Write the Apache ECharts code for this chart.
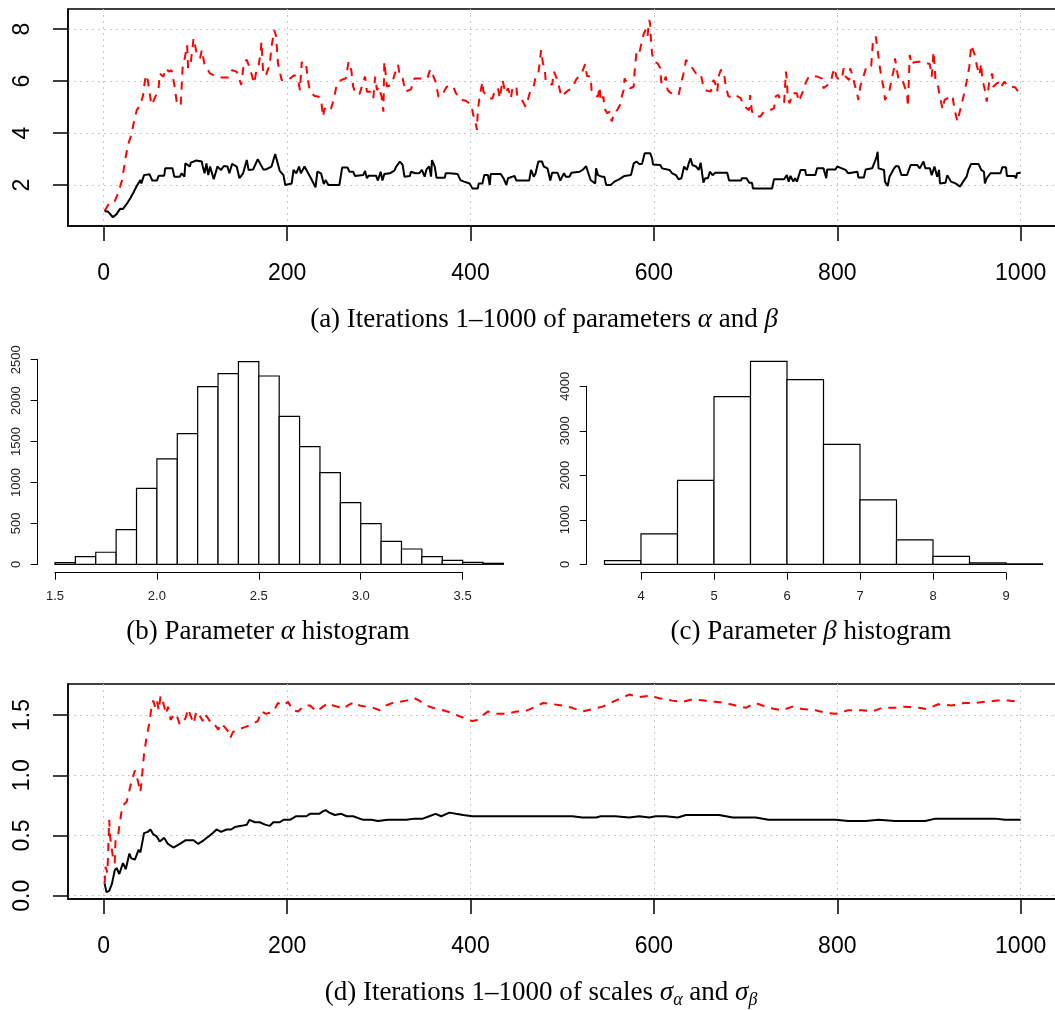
<!DOCTYPE html>
<html><head><meta charset="utf-8">
<script src="https://cdn.jsdelivr.net/npm/echarts@6/dist/echarts.min.js"></script>
<style>html,body{margin:0;padding:0;background:#fff}#c{width:1055px;height:1010px}</style>
</head><body><div id="c"></div>
<script>
// ---------- DATA ----------
const alphaTrace = [[1,1.0],[5,0.97],[10,0.76],[14,0.88],[18,1.09],[21,1.08],[25,1.27],[29,1.49],[32,1.68],[36,1.96],[40,2.19],[41,2.06],[44,2.38],[50,2.41],[53,2.17],[58,2.17],[60,2.36],[66,2.36],[67,2.64],[75,2.64],[77,2.32],[83,2.32],[85,2.45],[88,2.32],[89,2.83],[94,2.71],[95,2.86],[101,2.94],[107,2.90],[108,2.71],[110,2.45],[112,2.83],[114,2.38],[116,2.71],[118,2.77],[120,2.22],[124,2.71],[128,2.58],[131,2.73],[135,2.71],[137,2.45],[140,2.81],[145,2.71],[148,2.26],[152,2.45],[156,2.96],[158,2.58],[163,2.60],[168,2.99],[174,2.60],[177,2.60],[183,2.71],[187,3.19],[189,3.19],[192,2.54],[196,2.38],[198,2.0],[200,2.04],[205,2.06],[207,2.58],[210,2.45],[213,2.71],[215,2.45],[219,2.71],[223,2.45],[226,2.26],[231,1.91],[233,2.51],[237,2.45],[240,2.04],[242,2.19],[245,2.0],[257,2.0],[260,2.67],[266,2.67],[268,2.51],[272,2.51],[274,2.35],[283,2.38],[285,2.54],[287,2.26],[289,2.36],[297,2.36],[299,2.17],[302,2.51],[304,2.17],[306,2.42],[312,2.45],[317,2.55],[319,2.71],[323,2.90],[326,2.77],[328,2.32],[334,2.35],[335,2.51],[340,2.45],[344,2.45],[347,2.58],[350,2.32],[352,2.60],[355,2.71],[357,2.32],[358,2.96],[361,2.71],[363,2.28],[372,2.28],[373,2.45],[377,2.45],[386,2.42],[389,2.19],[393,2.13],[399,2.06],[402,1.87],[408,1.87],[409,2.06],[413,2.06],[415,2.38],[419,2.38],[421,2.0],[422,2.42],[433,2.42],[436,2.26],[439,2.0],[441,2.26],[448,2.35],[450,2.17],[464,2.17],[466,2.58],[469,2.32],[471,2.45],[474,2.90],[478,2.90],[480,2.71],[484,2.64],[487,2.17],[489,2.47],[495,2.47],[498,2.17],[500,2.32],[502,2.45],[504,2.32],[508,2.32],[510,2.47],[519,2.51],[523,2.60],[526,2.73],[528,2.51],[531,2.19],[533,2.26],[536,2.06],[537,2.64],[539,2.38],[543,2.32],[546,2.32],[548,2.0],[553,2.0],[557,2.13],[562,2.22],[568,2.35],[575,2.38],[578,2.83],[581,2.90],[584,2.81],[587,2.81],[590,3.22],[596,3.22],[598,3.03],[599,2.79],[607,2.77],[609,2.64],[617,2.58],[620,2.45],[624,2.38],[627,2.22],[630,2.26],[633,2.71],[636,2.58],[638,2.83],[640,3.03],[642,2.77],[646,2.71],[649,2.58],[651,2.86],[653,2.83],[654,2.09],[656,2.26],[659,2.26],[661,2.51],[664,2.38],[667,2.47],[680,2.47],[682,2.17],[695,2.17],[696,2.26],[701,2.26],[704,2.09],[707,2.09],[708,1.87],[729,1.87],[731,2.22],[742,2.22],[745,2.38],[747,2.13],[749,2.35],[752,2.13],[754,2.26],[756,2.13],[758,2.13],[760,2.58],[765,2.58],[766,2.38],[776,2.38],[778,2.64],[785,2.64],[788,2.26],[789,2.60],[798,2.60],[800,2.71],[805,2.64],[809,2.58],[812,2.45],[814,2.51],[822,2.51],[823,2.29],[829,2.29],[831,2.60],[838,2.64],[841,2.90],[843,3.09],[844,3.28],[845,2.64],[851,2.58],[852,2.13],[855,1.96],[857,2.32],[859,2.38],[862,2.64],[864,2.73],[867,2.71],[870,2.38],[876,2.38],[880,2.77],[887,2.77],[890,2.64],[892,2.64],[894,2.90],[896,2.64],[901,2.64],[903,2.38],[906,2.71],[909,2.32],[911,2.58],[912,2.06],[918,2.09],[920,2.38],[922,2.35],[924,2.13],[929,2.06],[934,1.94],[938,2.17],[941,2.32],[943,2.58],[946,2.81],[954,2.81],[957,2.58],[960,2.51],[961,2.06],[963,2.26],[967,2.45],[978,2.45],[980,2.68],[984,2.68],[985,2.35],[993,2.35],[995,2.26],[996,2.45],[1000,2.47]];

const betaTrace = [[1,1.0],[7,1.36],[12,1.38],[16,1.71],[20,2.19],[24,3.09],[27,3.60],[30,3.92],[33,4.44],[36,4.88],[40,5.08],[43,5.46],[44,5.78],[46,6.23],[48,6.04],[49,6.10],[52,5.08],[54,5.21],[57,5.46],[60,5.78],[61,6.29],[65,6.17],[68,6.49],[71,6.36],[74,6.42],[77,5.85],[80,5.08],[84,5.08],[86,6.49],[88,6.81],[91,7.38],[92,6.49],[95,6.74],[98,7.64],[101,7.13],[105,6.87],[107,7.19],[110,6.62],[116,6.29],[123,6.17],[130,6.13],[136,6.13],[140,6.42],[145,6.36],[147,6.29],[150,5.85],[153,6.74],[156,6.81],[158,6.62],[161,6.29],[164,5.91],[167,6.49],[169,6.62],[171,7.06],[172,7.51],[174,6.23],[177,6.23],[181,6.62],[183,7.32],[185,7.38],[186,7.96],[188,7.71],[190,6.68],[194,6.04],[200,6.01],[208,6.23],[212,6.04],[214,5.65],[216,6.74],[218,6.49],[221,6.55],[223,5.97],[225,5.59],[230,5.42],[234,5.40],[237,5.33],[239,4.63],[241,4.95],[245,4.82],[248,4.95],[251,5.30],[254,5.85],[259,6.04],[264,6.10],[267,6.74],[270,6.42],[272,5.78],[275,5.50],[279,5.50],[282,5.85],[285,6.17],[287,5.59],[291,5.59],[294,5.33],[296,6.17],[298,5.65],[300,5.78],[303,5.40],[305,4.82],[306,6.74],[309,5.78],[313,5.85],[315,5.97],[317,6.23],[321,6.62],[323,6.17],[326,6.10],[329,5.59],[335,5.68],[339,6.10],[348,6.10],[353,6.10],[356,6.45],[359,6.23],[362,5.97],[363,5.78],[365,5.40],[368,5.40],[372,5.65],[374,5.78],[381,5.81],[384,5.53],[390,5.27],[395,5.24],[401,5.08],[403,4.69],[405,4.50],[407,4.12],[408,4.88],[410,5.42],[413,5.97],[414,5.59],[416,5.65],[420,5.33],[424,5.33],[427,5.68],[430,5.72],[432,5.33],[435,6.04],[438,5.53],[441,5.72],[444,5.33],[446,5.78],[450,5.78],[451,5.40],[455,5.33],[457,5.21],[460,5.01],[462,5.21],[465,5.59],[469,5.78],[471,6.17],[474,6.29],[477,7.19],[479,6.68],[481,6.49],[482,5.97],[486,5.91],[489,5.85],[491,6.36],[494,6.10],[497,5.72],[499,5.40],[502,5.50],[507,5.65],[511,5.72],[515,6.04],[519,6.23],[522,6.36],[525,6.65],[527,6.19],[531,6.17],[532,5.65],[535,5.46],[539,5.40],[541,5.78],[542,5.21],[545,5.40],[546,4.95],[549,4.76],[552,4.82],[554,4.44],[557,4.82],[560,4.88],[563,5.08],[565,5.40],[567,5.65],[568,6.10],[570,6.04],[574,5.72],[578,5.78],[579,6.36],[581,7.13],[584,7.06],[586,7.38],[589,7.83],[591,7.96],[593,7.71],[595,8.35],[596,8.15],[597,7.45],[598,7.06],[600,6.74],[604,6.68],[607,6.49],[608,5.97],[610,5.85],[613,6.17],[615,5.65],[618,5.55],[622,5.49],[627,5.46],[630,5.97],[632,6.23],[635,6.81],[638,6.68],[642,6.49],[646,6.29],[651,6.29],[654,5.78],[656,5.65],[662,5.59],[665,6.04],[667,5.91],[669,5.59],[671,6.23],[673,6.42],[676,6.40],[678,5.91],[681,5.42],[685,5.37],[689,5.46],[695,5.33],[696,5.21],[701,4.95],[704,4.88],[705,5.46],[707,4.82],[711,4.63],[716,4.63],[720,4.82],[725,4.85],[731,4.95],[733,5.42],[736,5.46],[738,5.21],[742,5.17],[744,6.36],[745,6.04],[746,5.33],[748,5.14],[751,5.53],[756,5.53],[758,5.21],[762,5.55],[766,5.97],[769,6.17],[773,6.19],[778,6.17],[783,6.10],[785,5.72],[788,5.81],[793,5.97],[795,6.29],[797,6.49],[799,6.17],[802,6.04],[805,6.10],[807,6.49],[809,6.17],[813,6.04],[814,6.49],[817,6.17],[819,5.85],[821,5.65],[823,5.27],[825,5.78],[829,6.23],[832,6.58],[837,6.58],[839,7.58],[842,7.71],[844,7.19],[846,6.62],[848,6.17],[851,5.65],[852,5.27],[854,5.29],[857,5.65],[859,6.04],[862,6.49],[863,6.87],[865,6.42],[867,6.04],[871,6.04],[874,5.72],[876,5.59],[877,5.01],[879,7.00],[881,6.62],[883,6.71],[888,6.74],[893,6.74],[901,6.65],[903,6.17],[905,7.13],[907,6.10],[910,5.78],[912,5.37],[915,4.91],[917,5.27],[920,5.33],[923,5.46],[926,5.33],[928,4.88],[931,4.44],[934,4.88],[938,5.46],[941,5.97],[944,6.55],[946,7.38],[948,7.45],[950,7.00],[952,6.62],[955,6.23],[957,6.68],[958,6.10],[961,5.65],[963,5.21],[966,6.04],[969,6.29],[970,5.78],[974,5.91],[977,5.97],[979,5.78],[982,5.97],[987,5.78],[994,5.76],[1000,5.46]];

const sigmaAlphaTrace = [[1,0.10],[3,0.03],[6,0.04],[9,0.10],[12,0.21],[14,0.23],[17,0.18],[20,0.25],[21,0.27],[24,0.22],[28,0.35],[30,0.31],[34,0.30],[38,0.38],[40,0.36],[44,0.52],[48,0.53],[51,0.55],[54,0.51],[58,0.49],[61,0.45],[66,0.48],[70,0.43],[76,0.40],[83,0.43],[89,0.46],[94,0.46],[98,0.46],[103,0.43],[109,0.46],[114,0.49],[119,0.52],[123,0.55],[128,0.53],[134,0.55],[139,0.55],[143,0.57],[150,0.58],[156,0.59],[159,0.63],[165,0.61],[170,0.61],[176,0.59],[181,0.58],[185,0.61],[192,0.61],[196,0.63],[203,0.63],[210,0.66],[216,0.66],[221,0.66],[225,0.68],[230,0.68],[235,0.68],[239,0.70],[242,0.71],[246,0.69],[252,0.67],[259,0.68],[265,0.66],[272,0.66],[283,0.63],[292,0.63],[299,0.62],[310,0.63],[319,0.63],[330,0.63],[339,0.64],[348,0.64],[355,0.66],[362,0.68],[368,0.66],[377,0.69],[384,0.68],[392,0.67],[402,0.66],[413,0.66],[424,0.66],[435,0.66],[446,0.66],[460,0.66],[475,0.66],[490,0.66],[511,0.66],[522,0.65],[537,0.65],[542,0.66],[558,0.66],[573,0.65],[584,0.66],[595,0.65],[602,0.66],[613,0.66],[626,0.65],[635,0.67],[646,0.67],[660,0.67],[671,0.67],[686,0.65],[700,0.65],[711,0.65],[725,0.63],[740,0.63],[754,0.63],[769,0.63],[783,0.63],[798,0.63],[812,0.62],[831,0.62],[845,0.63],[863,0.62],[882,0.62],[896,0.62],[907,0.64],[921,0.64],[943,0.64],[958,0.64],[972,0.64],[983,0.63],[1000,0.63]];

const sigmaBetaTrace = [[1,0.10],[2,0.24],[4,0.19],[6,0.63],[7,0.49],[10,0.32],[12,0.27],[13,0.49],[16,0.52],[19,0.68],[21,0.75],[25,0.78],[27,0.84],[29,0.91],[32,0.99],[34,1.04],[37,0.96],[40,0.86],[41,0.93],[44,1.18],[47,1.33],[50,1.44],[52,1.56],[54,1.62],[56,1.57],[58,1.62],[60,1.54],[62,1.66],[65,1.60],[68,1.51],[70,1.57],[73,1.46],[76,1.50],[79,1.51],[83,1.42],[86,1.45],[89,1.47],[92,1.55],[95,1.49],[98,1.43],[101,1.53],[105,1.49],[108,1.45],[110,1.51],[114,1.47],[118,1.42],[121,1.42],[125,1.38],[128,1.43],[132,1.40],[136,1.36],[138,1.31],[141,1.36],[147,1.38],[154,1.40],[161,1.42],[168,1.45],[172,1.53],[177,1.51],[185,1.53],[190,1.60],[196,1.58],[201,1.61],[206,1.54],[212,1.53],[219,1.58],[225,1.58],[232,1.53],[239,1.57],[245,1.60],[250,1.58],[255,1.57],[261,1.55],[266,1.58],[274,1.61],[279,1.58],[286,1.57],[294,1.56],[301,1.54],[308,1.58],[315,1.60],[323,1.61],[330,1.62],[339,1.64],[344,1.62],[352,1.58],[359,1.56],[370,1.54],[379,1.52],[388,1.49],[395,1.47],[402,1.45],[408,1.46],[412,1.49],[419,1.53],[428,1.51],[439,1.51],[450,1.53],[459,1.53],[468,1.56],[479,1.60],[490,1.59],[500,1.58],[511,1.56],[522,1.53],[533,1.55],[544,1.57],[555,1.61],[564,1.64],[573,1.67],[584,1.65],[595,1.66],[606,1.64],[620,1.62],[631,1.61],[642,1.63],[655,1.62],[667,1.61],[678,1.60],[689,1.58],[700,1.56],[711,1.60],[725,1.56],[740,1.54],[751,1.57],[762,1.55],[776,1.54],[787,1.52],[798,1.51],[812,1.54],[827,1.54],[838,1.53],[849,1.56],[863,1.56],[874,1.57],[889,1.56],[898,1.55],[910,1.59],[925,1.58],[938,1.60],[950,1.60],[961,1.61],[974,1.62],[987,1.62],[1000,1.61]];

const alphaBreaks = [1.5,1.6,1.7,1.8,1.9,2.0,2.1,2.2,2.3,2.4,2.5,2.6,2.7,2.8,2.9,3.0,3.1,3.2,3.3,3.4,3.5,3.6,3.7];
const alphaCounts = [20,94,147,423,928,1287,1596,2170,2329,2476,2301,1808,1437,1120,753,497,281,187,94,49,24,12];
const betaBreaks = [3.5,4.0,4.5,5.0,5.5,6.0,6.5,7.0,7.5,8.0,8.5,9.0,9.5];
const betaCounts = [82,682,1888,3768,4562,4150,2697,1446,547,180,30,10];

const traceXTicks = [0,200,400,600,800,1000];
const abYTicks = [2,4,6,8];
const sigmaYTicks = [0,0.5,1.0,1.5];

const captionA = '(a) Iterations 1–1000 of parameters {i|α} and {i|β}';
const captionB = '(b) Parameter {i|α} histogram';
const captionC = '(c) Parameter {i|β} histogram';
const captionD = '(d) Iterations 1–1000 of scales {i|σ}{s|α} and {i|σ}{s|β}';

// ---------- HELPERS ----------
const SANS = 'Liberation Sans';
const SERIF = 'Liberation Serif';
const CAP = 27;
const gridLine = {show:true, lineStyle:{color:'#c8c8c8', type:[2,4], width:1}};

function histData(breaks, counts){
  return counts.map((c,i)=>[breaks[i], breaks[i+1], c]);
}
function histItem(params, api){
  const p0 = api.coord([api.value(0), api.value(2)]);
  const p1 = api.coord([api.value(1), 0]);
  return {type:'rect', shape:{x:p0[0], y:p0[1], width:p1[0]-p0[0], height:p1[1]-p0[1]},
    style:{fill:'#fff', stroke:'#000', lineWidth:1.2}};
}
function hidden(gridIndex, min, max){ return {gridIndex, type:'value', show:false, min, max, splitLine:{show:false}}; }

function traceX(gi){
  return {gridIndex:gi, type:'value', min:-38.96, max:1039.96,
    axisLine:{show:true, onZero:false, lineStyle:{color:'#000', width:1.5}},
    axisTick:{show:true, length:15, customValues:traceXTicks, lineStyle:{color:'#000', width:1.5}},
    axisLabel:{customValues:traceXTicks, margin:36, fontSize:23, fontFamily:SANS, color:'#000', formatter:v=>String(v)},
    splitLine:gridLine};
}
function traceY(gi, min, max, ticks, fmt){
  return {gridIndex:gi, type:'value', min, max,
    axisLine:{show:true, onZero:false, lineStyle:{color:'#000', width:1.5}},
    axisTick:{show:true, length:15, customValues:ticks, lineStyle:{color:'#000', width:1.5}},
    axisLabel:{customValues:ticks, margin:34, rotate:90, fontSize:23, fontFamily:SANS, color:'#000', formatter:fmt},
    splitLine:gridLine};
}
function histAxisX(gi, min, max, interval, fmt){
  return {gridIndex:gi, type:'value', min, max, interval,
    axisLine:{show:true, onZero:false, lineStyle:{color:'#000', width:1}},
    axisTick:{show:true, length:7, lineStyle:{color:'#000', width:1}},
    axisLabel:{margin:17, fontSize:13, fontFamily:SANS, color:'#222', formatter:fmt, showMinLabel:true, showMaxLabel:true},
    splitLine:{show:false}};
}
function histAxisY(gi, min, max, interval){
  return {gridIndex:gi, type:'value', min, max, interval,
    axisLine:{show:true, onZero:false, lineStyle:{color:'#000', width:1}},
    axisTick:{show:true, length:7, lineStyle:{color:'#000', width:1}},
    axisLabel:{margin:15, rotate:90, fontSize:13, fontFamily:SANS, color:'#222', formatter:v=>String(v), showMinLabel:true, showMaxLabel:true},
    splitLine:{show:false}};
}
const G = (o)=>Object.assign({outerBoundsMode:'none', containLabel:false}, o);
function caption(x, y, text){
  return {type:'text', x, y, style:{text, fontSize:CAP, fontFamily:SERIF, fill:'#000', align:'center', verticalAlign:'middle', lineHeight:32,
    rich:{i:{fontSize:CAP, fontFamily:SERIF, fontStyle:'italic', lineHeight:32},
          s:{fontSize:18, fontFamily:SERIF, fontStyle:'italic', lineHeight:20, verticalAlign:'bottom'}}}};
}

const option = {
  animation:false,
  backgroundColor:'#fff',
  grid:[
    G({left:68, top:9, width:989.3, height:217, show:true, borderColor:'#000', borderWidth:1.5}), //0 a
    G({left:55, top:359.7, width:448.4, height:204.6}),   //1 b main
    G({left:37.7, top:359.7, width:10, height:204.6}),    //2 b y axis
    G({left:55, top:359.7, width:407.6, height:213}),     //3 b x axis
    G({left:604.5, top:341.8, width:438, height:222.5}),  //4 c main
    G({left:586.7, top:386.3, width:10, height:178}),     //5 c y axis
    G({left:641, top:386.3, width:365, height:186.4}),    //6 c x axis
    G({left:68, top:684, width:989.3, height:215, show:true, borderColor:'#000', borderWidth:1.5}) //7 d
  ],
  xAxis:[
    traceX(0),
    hidden(1, 1.5, 3.7),
    hidden(2, 0, 1),
    histAxisX(3, 1.5, 3.5, 0.5, v=>v.toFixed(1)),
    hidden(4, 3.5, 9.5),
    hidden(5, 0, 1),
    histAxisX(6, 4, 9, 1, v=>String(v)),
    traceX(7)
  ],
  yAxis:[
    traceY(0, 0.423, 8.769, abYTicks, v=>String(v)),
    hidden(1, 0, 2500),
    histAxisY(2, 0, 2500, 500),
    hidden(3, 0, 1),
    hidden(4, 0, 5000),
    histAxisY(5, 0, 4000, 1000),
    hidden(6, 0, 1),
    traceY(7, -0.0274, 1.758, sigmaYTicks, v=>v.toFixed(1))
  ],
  series:[
    {type:'line', xAxisIndex:0, yAxisIndex:0, data:betaTrace, showSymbol:false, symbol:'none',
      lineStyle:{color:'#ff0000', width:2, type:[8,7]}},
    {type:'line', xAxisIndex:0, yAxisIndex:0, data:alphaTrace, showSymbol:false, symbol:'none',
      lineStyle:{color:'#000', width:2}},
    {type:'custom', xAxisIndex:1, yAxisIndex:1, data:histData(alphaBreaks, alphaCounts), renderItem:histItem,
      encode:{x:[0,1], y:2}},
    {type:'custom', xAxisIndex:4, yAxisIndex:4, data:histData(betaBreaks, betaCounts), renderItem:histItem,
      encode:{x:[0,1], y:2}},
    {type:'line', xAxisIndex:7, yAxisIndex:7, data:sigmaBetaTrace, showSymbol:false, symbol:'none',
      lineStyle:{color:'#ff0000', width:2, type:[8,7]}},
    {type:'line', xAxisIndex:7, yAxisIndex:7, data:sigmaAlphaTrace, showSymbol:false, symbol:'none',
      lineStyle:{color:'#000', width:2}}
  ],
  graphic:[
    caption(544, 320, captionA),
    caption(268, 632, captionB),
    caption(811, 632, captionC),
    caption(541, 993, captionD)
  ]
};
const chart = echarts.init(document.getElementById('c'), null, {renderer:'canvas'});
chart.setOption(option);
</script>
</body></html>
